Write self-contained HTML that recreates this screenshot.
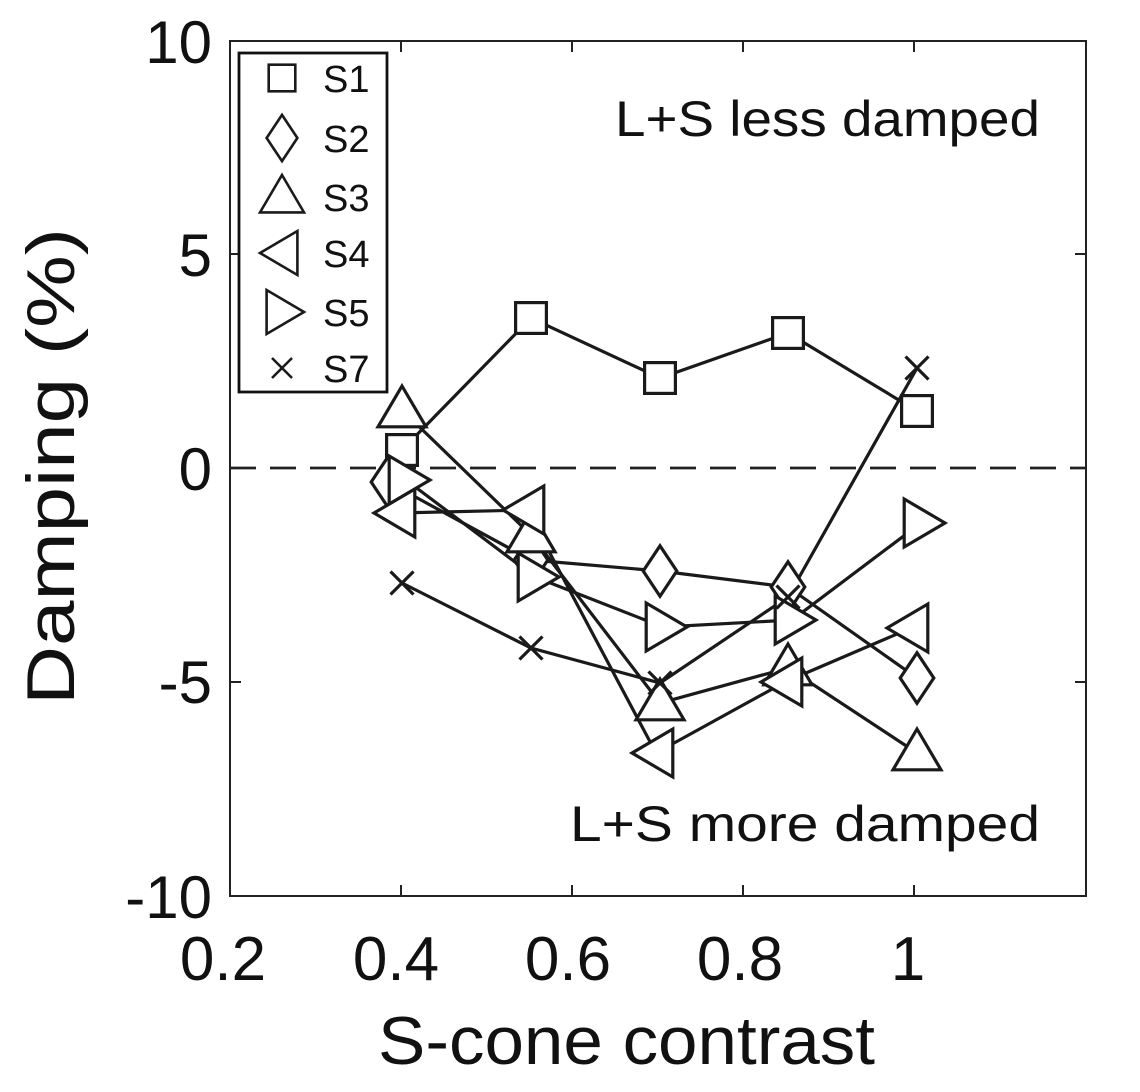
<!DOCTYPE html>
<html><head><meta charset="utf-8"><style>
html,body{margin:0;padding:0;background:#fff;}
svg{display:block;font-family:"Liberation Sans",Arial,sans-serif;}
</style></head><body>
<svg id="s" width="1140" height="1092" viewBox="0 0 1140 1092" xmlns="http://www.w3.org/2000/svg">
<rect x="0" y="0" width="1140" height="1092" fill="#fff"/>
<g stroke="#222" stroke-width="2" fill="none">
<rect x="230" y="41" width="856" height="855"/>
<line x1="230" y1="468" x2="1086" y2="468" stroke-dasharray="26,14" stroke-width="2.8"/>
</g>
<g id="ticks" stroke="#222" stroke-width="2"></g>
<g font-size="62" fill="#111" text-anchor="middle">
<text x="223" y="980">0.2</text><text x="396" y="980">0.4</text><text x="568" y="980">0.6</text><text x="740" y="980">0.8</text><text x="908" y="980">1</text>
</g>
<g font-size="60" fill="#111" text-anchor="end">
<text x="212" y="63">10</text><text x="212" y="276">5</text><text x="212" y="490">0</text><text x="212" y="703">-5</text><text x="212" y="918">-10</text>
</g>
<text x="378" y="1064" font-size="68" textLength="497" lengthAdjust="spacingAndGlyphs" fill="#111">S-cone contrast</text>
<text transform="translate(74,705) rotate(-90)" font-size="68" textLength="477" lengthAdjust="spacingAndGlyphs" fill="#111">Damping (%)</text>
<text x="1040" y="136" font-size="50" text-anchor="end" fill="#111" textLength="425" lengthAdjust="spacingAndGlyphs">L+S less damped</text>
<text x="1040" y="841" font-size="50" text-anchor="end" fill="#111" textLength="470" lengthAdjust="spacingAndGlyphs">L+S more damped</text>
<g id="data" stroke="#1a1a1a" stroke-width="3.2" fill="none"></g>
<rect x="239" y="53" width="148" height="339" fill="#fff" stroke="#111" stroke-width="2.8"/>
<g id="leg" stroke="#1a1a1a" stroke-width="2.6" fill="none"></g>
<g font-size="38" fill="#111">
<text x="323" y="92">S1</text><text x="323" y="152">S2</text><text x="323" y="211">S3</text><text x="323" y="267">S4</text><text x="323" y="326">S5</text><text x="323" y="382">S7</text>
</g>
</svg>
<script>
var NS="http://www.w3.org/2000/svg";
function el(p,t,a){var e=document.createElementNS(NS,t);for(var k in a)e.setAttribute(k,a[k]);p.appendChild(e);return e;}
var tk=document.getElementById('ticks');
[230,401,572,743,914].forEach(function(x){el(tk,'line',{x1:x,y1:896,x2:x,y2:885});el(tk,'line',{x1:x,y1:41,x2:x,y2:52});});
[41,254,468,682,896].forEach(function(y){el(tk,'line',{x1:230,y1:y,x2:241,y2:y});el(tk,'line',{x1:1086,y1:y,x2:1075,y2:y});});
function mk(g,type,x,y,s){
 var r=s/2;
 if(type=='sq')el(g,'rect',{x:x-r*0.7,y:y-r*0.7,width:r*1.4,height:r*1.4,fill:'#fff'});
 else if(type=='di')el(g,'polygon',{points:(x)+','+(y-r*1.05)+' '+(x+r*0.7)+','+y+' '+x+','+(y+r*1.05)+' '+(x-r*0.7)+','+y,fill:'#fff'});
 else if(type=='up')el(g,'polygon',{points:x+','+(y-r)+' '+(x+r)+','+(y+r*0.7)+' '+(x-r)+','+(y+r*0.7),fill:'#fff'});
 else if(type=='lt')el(g,'polygon',{points:(x-r)+','+y+' '+(x+r*0.7)+','+(y-r)+' '+(x+r*0.7)+','+(y+r),fill:'#fff'});
 else if(type=='rt')el(g,'polygon',{points:(x+r)+','+y+' '+(x-r*0.7)+','+(y-r)+' '+(x-r*0.7)+','+(y+r),fill:'#fff'});
 else if(type=='x'){var q=r*0.5;el(g,'line',{x1:x-q,y1:y-q,x2:x+q,y2:y+q});el(g,'line',{x1:x-q,y1:y+q,x2:x+q,y2:y-q});}
}
var S=[
['sq',[[402,450],[531,318],[660,378],[788,333],[917,411]]],
['di',[[388,482],[531,560],[660,571],[788,587],[917,678]]],
['up',[[402,410],[531,535],[660,703],[788,668],[917,753]]],
['lt',[[398,513],[527,510],[656,753],[785,682],[911,628]]],
['rt',[[406,480],[535,577],[663,627],[792,620],[921,523]]],
['x',[[402,583],[531,648],[660,683],[788,597],[917,368]]]
];
var d=document.getElementById('data');
S.forEach(function(s){el(d,'polyline',{points:s[1].map(function(p){return p.join(',')}).join(' ')});});
S.forEach(function(s){var sz=s[0]=='sq'?44:(s[0]=='x'?46:48);s[1].forEach(function(p){mk(d,s[0],p[0],p[1],sz);});});
var lg=document.getElementById('leg');
var ys=[78,138,197,253,312,368];
S.forEach(function(s,i){mk(lg,s[0],282,ys[i],s[0]=='sq'?38:(s[0]=='x'?40:44));});
</script>
</body></html>
